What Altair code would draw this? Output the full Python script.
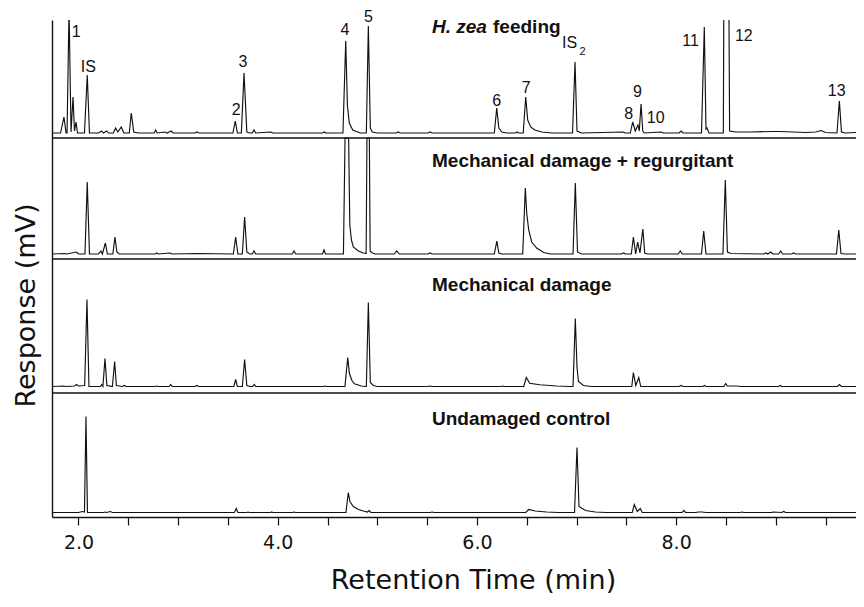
import altair as alt
import pandas as pd

# ---------------- data ----------------
TIME_DOMAIN = [1.734, 9.806]
X_TICKS = [2.0, 2.5, 3.0, 3.5, 4.0, 4.5, 5.0, 5.5, 6.0, 6.5, 7.0, 7.5, 8.0, 8.5, 9.0, 9.5]

PANELS = ["H. zea feeding", "Mechanical damage + regurgitant",
          "Mechanical damage", "Undamaged control"]

# (retention time [min], relative response) vertices of each chromatogram trace
HZEA = [
    (1.734, 1), (1.82, 1), (1.854, 17), (1.875, 1), (1.885, 1), (1.905, 125), (1.925, 2),
    (1.945, 37), (1.96, 3), (1.975, 12), (1.99, 1),
    (2.06, 1), (2.088, 59), (2.11, 1),
    (2.2, 1), (2.233, 3), (2.25, 1), (2.283, 3), (2.30, 1),
    (2.35, 1), (2.373, 6), (2.395, 2), (2.43, 7), (2.455, 1),
    (2.51, 1), (2.53, 21), (2.555, 2), (2.6, 1),
    (2.76, 1), (2.775, 4), (2.79, 1), (2.868, 2), (2.89, 1), (2.929, 3), (2.95, 1),
    (3.17, 1), (3.187, 2), (3.21, 1),
    (3.55, 1), (3.574, 13), (3.595, 1),
    (3.635, 1), (3.662, 61), (3.69, 2), (3.72, 1), (3.745, 1), (3.762, 4), (3.78, 1),
    (3.93, 2), (3.95, 1),
    (4.45, 1), (4.468, 2), (4.485, 1),
    (4.655, 1), (4.683, 93), (4.70, 28), (4.719, 11), (4.753, 4), (4.83, 1),
    (4.89, 1), (4.91, 108), (4.93, 6), (4.95, 2), (5.0, 1),
    (5.19, 1), (5.21, 2), (5.23, 1),
    (5.51, 1), (5.53, 2), (5.55, 1),
    (6.175, 1), (6.199, 26), (6.22, 6), (6.25, 2), (6.3, 1),
    (6.39, 1), (6.405, 2), (6.42, 1),
    (6.465, 1), (6.49, 37), (6.51, 14), (6.54, 7), (6.58, 4), (6.65, 2), (6.75, 1),
    (6.96, 1), (6.985, 72), (7.005, 3), (7.05, 1),
    (7.47, 2), (7.49, 1),
    (7.54, 1), (7.564, 12), (7.59, 3), (7.617, 9), (7.63, 3), (7.648, 30), (7.665, 3), (7.68, 1),
    (7.85, 2), (7.87, 1),
    (8.03, 1), (8.05, 3), (8.07, 1),
    (8.255, 1), (8.283, 107), (8.30, 5), (8.31, 6), (8.33, 1),
    (8.474, 1), (8.479, 130), (8.504, 250), (8.530, 130), (8.537, 3), (8.6, 2),
    (8.75, 2), (8.96, 2.5), (9.04, 2.5), (9.3, 1.5), (9.4, 2), (9.455, 3.5), (9.5, 1.5),
    (9.615, 1), (9.639, 33), (9.66, 2), (9.7, 1), (9.806, 1.5),
]

MECH_REGURG = [
    (1.734, 1), (1.864, 1.5), (1.88, 1), (1.98, 3), (2.0, 1),
    (2.065, 1), (2.088, 73), (2.11, 1),
    (2.2, 1), (2.226, 4), (2.24, 1), (2.27, 12), (2.29, 1),
    (2.345, 1), (2.366, 18), (2.385, 3), (2.41, 1),
    (2.77, 1), (2.785, 2), (2.8, 1), (2.92, 2), (2.94, 1), (3.187, 1.5),
    (3.555, 1), (3.578, 18), (3.60, 1),
    (3.645, 1), (3.668, 38), (3.69, 3), (3.72, 1), (3.745, 1), (3.762, 4), (3.78, 1),
    (4.145, 1), (4.164, 4), (4.18, 1),
    (4.45, 1), (4.465, 5), (4.48, 1),
    (4.66, 1), (4.676, 130), (4.695, 250), (4.712, 130), (4.724, 30), (4.74, 15),
    (4.759, 8), (4.81, 4), (4.86, 2),
    (4.888, 1.5), (4.896, 140), (4.908, 250), (4.92, 140), (4.928, 4), (4.95, 2), (4.98, 1),
    (5.17, 1), (5.195, 4), (5.22, 1),
    (5.51, 1), (5.53, 2), (5.55, 1),
    (6.175, 1), (6.20, 14), (6.22, 2), (6.25, 1),
    (6.46, 1), (6.486, 67), (6.50, 42), (6.52, 25), (6.55, 13), (6.60, 7), (6.67, 2.5), (6.74, 1),
    (6.965, 1), (6.988, 72), (7.01, 3), (7.05, 1),
    (7.45, 1), (7.473, 2), (7.49, 1),
    (7.55, 1), (7.571, 18), (7.594, 1), (7.614, 13), (7.637, 2), (7.666, 26), (7.685, 2), (7.71, 1),
    (8.02, 1), (8.042, 4), (8.06, 1),
    (8.255, 1), (8.277, 24), (8.30, 1),
    (8.47, 1), (8.494, 75), (8.515, 3), (8.55, 1.5),
    (8.88, 1), (8.9, 2), (8.92, 1), (8.95, 3), (8.97, 1), (9.03, 1), (9.05, 4), (9.07, 1),
    (9.16, 1), (9.18, 2), (9.2, 1),
    (9.61, 1), (9.633, 25), (9.655, 1.5), (9.7, 1), (9.806, 1),
]

MECH = [
    (1.734, 1), (1.854, 1.5), (1.87, 1), (1.96, 1.5), (1.98, 3), (2.0, 1.5),
    (2.062, 2), (2.085, 88), (2.105, 1),
    (2.22, 1), (2.233, 3), (2.245, 1), (2.266, 29), (2.285, 2),
    (2.34, 1), (2.363, 26), (2.38, 2), (2.44, 1), (2.46, 2), (2.48, 1),
    (2.77, 1), (2.785, 1.5), (2.8, 1), (2.91, 1), (2.926, 3), (2.94, 1),
    (3.17, 1), (3.187, 2), (3.21, 1),
    (3.56, 1), (3.578, 8), (3.595, 1),
    (3.645, 1), (3.668, 28), (3.69, 2), (3.72, 1), (3.75, 1), (3.765, 3), (3.78, 1),
    (4.46, 1), (4.475, 1.5), (4.49, 1),
    (4.675, 1), (4.703, 30), (4.72, 14), (4.745, 7), (4.77, 3.7), (4.84, 1.5), (4.885, 1),
    (4.89, 1), (4.91, 85), (4.93, 5), (4.96, 2), (5.0, 1),
    (5.5, 1), (5.53, 1.5), (5.55, 1),
    (6.245, 1), (6.26, 1.5), (6.275, 1),
    (6.47, 1), (6.496, 10), (6.53, 4.3), (6.63, 2.7), (6.80, 1.5), (6.93, 1),
    (6.965, 1), (6.988, 69), (7.005, 20), (7.02, 6), (7.07, 2), (7.15, 1),
    (7.555, 1), (7.571, 15), (7.595, 2), (7.625, 10), (7.645, 1),
    (8.03, 1), (8.05, 2), (8.07, 1),
    (8.27, 1), (8.284, 2), (8.30, 1),
    (8.48, 1), (8.498, 4), (8.515, 1.5), (8.61, 1.5), (8.65, 1),
    (9.03, 1), (9.046, 2), (9.06, 1),
    (9.62, 1), (9.639, 3), (9.66, 1), (9.806, 1),
]

CONTROL = [
    (1.734, 1), (2.0, 1), (2.04, 2), (2.06, 1.5), (2.075, 97), (2.09, 1),
    (2.25, 1), (2.266, 1.5), (2.28, 1), (2.32, 2), (2.34, 1),
    (3.565, 1), (3.584, 5), (3.60, 1),
    (3.69, 1), (3.702, 1.5), (3.715, 1),
    (3.93, 1), (3.94, 1.5), (3.95, 1),
    (4.15, 1), (4.164, 1.5), (4.18, 1),
    (4.685, 1), (4.709, 21), (4.725, 12), (4.759, 7), (4.81, 4), (4.86, 2.5), (4.90, 1.5),
    (4.917, 3), (4.935, 1),
    (5.53, 1), (5.55, 1.5), (5.57, 1),
    (6.49, 1), (6.52, 4), (6.585, 2.5), (6.7, 1.5), (6.82, 1),
    (6.98, 1), (7.005, 66), (7.025, 7), (7.09, 3), (7.19, 1.5), (7.3, 1),
    (7.56, 1), (7.58, 9), (7.61, 2), (7.64, 5), (7.66, 1),
    (8.06, 1), (8.077, 3), (8.095, 1),
    (8.2, 1), (8.22, 1.5), (8.26, 1.5), (8.3, 1),
    (8.64, 1), (8.66, 1.5), (8.68, 1),
    (8.96, 1), (8.97, 1.5), (9.06, 1), (9.08, 2), (9.1, 1), (9.806, 1),
]

TRACES = [HZEA, MECH_REGURG, MECH, CONTROL]

# peak annotations in the top trace: (text, time, response)
PEAK_LABELS = [
    ("1", 1.977, 102), ("IS", 2.098, 67), ("2", 3.583, 24.5), ("3", 3.650, 72.2),
    ("4", 4.676, 104.5), ("5", 4.910, 117), ("6", 6.199, 33.2), ("7", 6.495, 46.5),
    ("IS", 6.930, 91), ("8", 7.525, 19.8), ("9", 7.612, 42.2), ("10", 7.795, 16.5),
    ("11", 8.145, 93.2), ("12", 8.680, 97.7), ("13", 9.612, 43.2),
]
SUBSCRIPTS = [("2", 7.060, 82)]

# panel titles: (text, time, panel index, response, style)
PANEL_TITLES = [
    ("H. zea", 5.549, 0, 101, "italic"),
    ("feeding", 6.162, 0, 101, "normal"),
    ("Mechanical damage + regurgitant", 5.549, 1, 88, "normal"),
    ("Mechanical damage", 5.549, 2, 96.5, "normal"),
    ("Undamaged control", 5.549, 3, 88.5, "normal"),
]

# ---------------- layout of the stacked panels (response units) ----------------
PANEL_OFFSET = [383, 262, 129.5, 3.5]      # baseline of each trace on the shared axis
PANEL_CAP = [1000, 117, 128.5, 120.5]      # top of each panel above its baseline
SEPARATORS = [124, 258, 379]
Y_DOMAIN = [0, 497]

rows = []
for name, trace, off, cap in zip(PANELS, TRACES, PANEL_OFFSET, PANEL_CAP):
    for t, v in trace:
        rows.append({"panel": name, "t": t, "v": v, "y": off + min(v, cap)})
lines_df = pd.DataFrame(rows)

peaks_df = pd.DataFrame([{"label": s, "t": t, "y": PANEL_OFFSET[0] + v} for s, t, v in PEAK_LABELS])
subs_df = pd.DataFrame([{"label": s, "t": t, "y": PANEL_OFFSET[0] + v} for s, t, v in SUBSCRIPTS])
titles_df = pd.DataFrame([{"label": s, "t": t, "y": PANEL_OFFSET[p] + v, "style": st}
                          for s, t, p, v, st in PANEL_TITLES])
sep_df = pd.DataFrame({"y": SEPARATORS})

xscale = alt.Scale(domain=TIME_DOMAIN, nice=False, zero=False)
yscale = alt.Scale(domain=Y_DOMAIN, nice=False, zero=False)

X = alt.X("t:Q", scale=xscale, axis=alt.Axis(
    values=X_TICKS,
    labelExpr="datum.value % 2 === 0 ? format(datum.value, '.1f') : ''",
    labelFont="DejaVu Sans", labelFontSize=19, labelColor="#111", labelPadding=8,
    labelOverlap=False, labelFlush=False,
    tickSize=8, tickWidth=1.2, tickColor="#111",
    domainColor="#111", domainWidth=1.4, grid=False,
    title="Retention Time (min)", titleFont="DejaVu Sans", titleFontSize=27,
    titleFontWeight="normal", titleColor="#111",
    titleX=421, titleY=63, titleBaseline="middle", titleAlign="center",
))
Y = alt.Y("y:Q", scale=yscale, axis=alt.Axis(
    ticks=False, labels=False, grid=False,
    domainColor="#111", domainWidth=1.4,
    title="Response (mV)", titleFont="DejaVu Sans", titleFontSize=27,
    titleFontWeight="normal", titleColor="#111",
    titleX=-26, titleY=285, titleAngle=270, titleAlign="center", titleBaseline="middle",
))

traces = alt.Chart(lines_df).mark_line(color="#111", strokeWidth=1.15, clip=True).encode(
    x=X, y=Y, detail="panel:N", order="t:Q"
)
seps = alt.Chart(sep_df).mark_rule(color="#111", strokeWidth=1.4).encode(y=Y)

peak_text = alt.Chart(peaks_df).mark_text(
    font="Liberation Sans", fontSize=16, color="#111", baseline="middle", align="center"
).encode(x=X, y=Y, text="label:N")
sub_text = alt.Chart(subs_df).mark_text(
    font="Liberation Sans", fontSize=11, color="#111", baseline="middle", align="center"
).encode(x=X, y=Y, text="label:N")

title_italic = alt.Chart(titles_df[titles_df["style"] == "italic"]).mark_text(
    font="Liberation Sans", fontSize=19, fontWeight="bold", fontStyle="italic",
    color="#111", baseline="alphabetic", align="left"
).encode(x=X, y=Y, text="label:N")
title_normal = alt.Chart(titles_df[titles_df["style"] == "normal"]).mark_text(
    font="Liberation Sans", fontSize=19, fontWeight="bold",
    color="#111", baseline="alphabetic", align="left"
).encode(x=X, y=Y, text="label:N")

chart = alt.layer(traces, seps, peak_text, sub_text, title_italic, title_normal).properties(
    width=804, height=497,
    autosize=alt.AutoSizeParams(type="none"),
    padding={"left": 44, "top": 12, "right": 0, "bottom": 80},
    background="white",
).configure_view(stroke=None)

chart.save("out.html", embed_options={"renderer": "svg", "actions": False})
